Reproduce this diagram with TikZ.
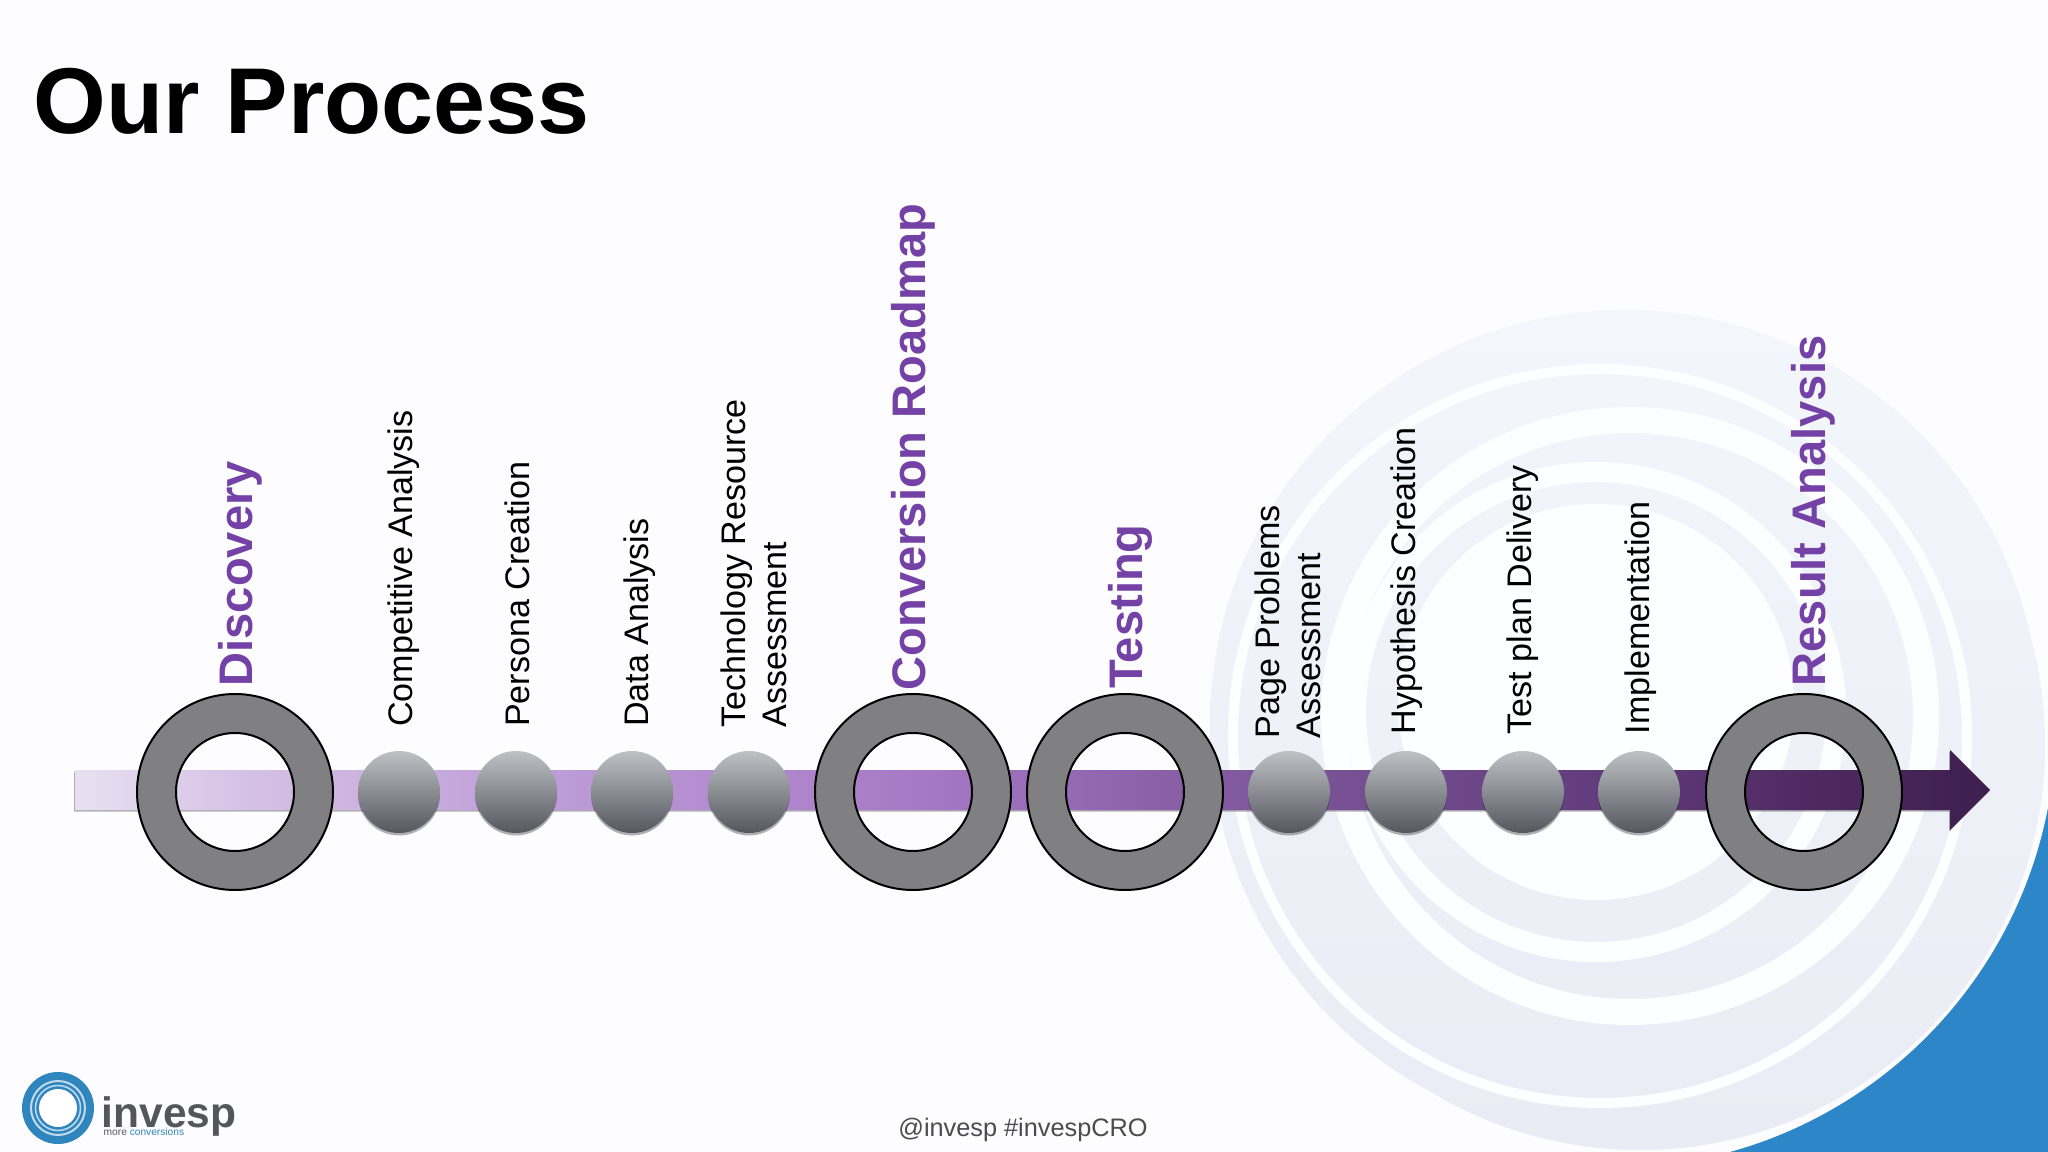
\documentclass[tikz,border=0pt]{standalone}
\usepackage{fontspec}
\setmainfont{Liberation Sans}
\usepackage{tikz}
\usetikzlibrary{shadows}

\definecolor{pageWhite}{HTML}{FDFCFE}
\definecolor{swirlWhite}{HTML}{FDFEFF}
\definecolor{swirlTop}{HTML}{F3F6FB}
\definecolor{swirlLow}{HTML}{E9ECF4}
\definecolor{cornerBlue}{HTML}{2C86C8}
\definecolor{ringGray}{HTML}{808082}
\definecolor{stepPurple}{HTML}{7442A6}
\definecolor{logoBlue}{HTML}{2F86BE}
\definecolor{logoGray}{HTML}{55565A}
\definecolor{ballTop}{HTML}{BEC1C4}
\definecolor{ballMid}{HTML}{8D9096}
\definecolor{ballLow}{HTML}{54575E}
\definecolor{barA}{HTML}{E8E0F0}
\definecolor{barB}{HTML}{D6C2E6}
\definecolor{barC}{HTML}{C0A0D9}
\definecolor{barD}{HTML}{A779C6}
\definecolor{barE}{HTML}{8F63AD}
\definecolor{barF}{HTML}{7B5598}
\definecolor{barG}{HTML}{5F3A79}
\definecolor{barH}{HTML}{4F2A62}
\definecolor{barI}{HTML}{3E1F4E}
\pgfdeclarehorizontalshading{barShade}{100bp}{
  color(0bp)=(barA); color(25bp)=(barA); color(29.2bp)=(barB); color(36.5bp)=(barC);
  color(46.9bp)=(barD); color(52.4bp)=(barE); color(56.7bp)=(barF);
  color(65.8bp)=(barG); color(70.1bp)=(barH); color(75bp)=(barI); color(100bp)=(barI)}

\begin{document}
\begin{tikzpicture}
    \tikzstyle{title} = [
      anchor=south west,
      inner sep=0,
      font=\fontsize{26.6pt}{30pt}\selectfont\bfseries,
    ]
    \tikzstyle{stage} = [
      rotate=90,
      anchor=west,
      inner sep=0,
      text=stepPurple,
      font=\fontsize{13.4pt}{15pt}\selectfont\bfseries,
    ]
    \tikzstyle{task} = [
      rotate=90,
      anchor=west,
      align=left,
      inner sep=0,
      font=\fontsize{9.7pt}{11.5pt}\selectfont,
    ]
    \tikzstyle{ball} = [
      circle,
      minimum size=8.2mm,
      inner sep=0,
      top color=ballTop,
      middle color=ballMid,
      bottom color=ballLow,
      drop shadow={shadow xshift=0mm, shadow yshift=-0.25mm, opacity=0.3, fill=black},
    ]
    \tikzstyle{ring} = [
      draw=black,
      line width=0.2mm,
      fill=ringGray,
      even odd rule,
    ]
    \tikzstyle{swirl} = [
      draw=swirlWhite,
    ]

    \newcommand{\ringOuter}[0]{9.8mm}
    \newcommand{\ringInner}[0]{5.9mm}
    \newcommand{\ringAt}[1]{\draw[ring] (#1) circle (\ringOuter) (#1) circle (\ringInner);}

    \useasboundingbox (0,0) rectangle (204.8mm,-115.2mm);

    \coordinate (barAnchor) at (7.5mm,-79mm);
    \coordinate (swirlAnchor) at (160mm,-72mm);
    \coordinate (logoAnchor) at (5.8mm,-110.8mm);

    % page
    {
      \fill[pageWhite] (0,0) rectangle (204.8mm,-115.2mm);
    }

    % swirl
    {
      \begin{scope}
        \clip (0,0) rectangle (204.8mm,-115.2mm);
        \fill[cornerBlue] (swirlAnchor) rectangle (204.8mm,-115.2mm);
        \fill[pageWhite] ([xshift=1.1mm, yshift=-0.3mm] swirlAnchor) circle (44.5mm);
        \shade[top color=swirlTop, bottom color=swirlLow]
          ([xshift=2.5mm, yshift=-0.5mm] swirlAnchor) circle (41.5mm)
          ([xshift=4mm, yshift=-2.5mm] swirlAnchor) circle (40.5mm);
        \draw[swirl, line width=1mm] ([yshift=-1.6mm] swirlAnchor) circle (36.7mm);
        \draw[swirl, line width=2.6mm] ([xshift=3mm, yshift=0.4mm] swirlAnchor) circle (29.6mm);
        \draw[swirl, line width=2mm] ([xshift=-0.4mm, yshift=0.8mm] swirlAnchor) circle (24mm);
        \fill[swirlWhite] ([xshift=-0.4mm, yshift=1.8mm] swirlAnchor) circle (19.8mm);
      \end{scope}
    }

    % title
    {
      \node[title] (pageTitle) at (3.3mm,-13.5mm) {Our Process};
    }

    % bar
    {
      \coordinate (barTip) at ([xshift=191.5mm] barAnchor);
      \shade[shading=barShade, drop shadow={shadow xshift=-0.1mm, shadow yshift=-0.15mm, opacity=0.3, fill=black}]
        ([yshift=2mm] barAnchor) -- ([xshift=187.5mm, yshift=2mm] barAnchor)
        -- ([xshift=187.5mm, yshift=4mm] barAnchor) -- (barTip)
        -- ([xshift=187.5mm, yshift=-4mm] barAnchor) -- ([xshift=187.5mm, yshift=-2mm] barAnchor)
        -- ([yshift=-2mm] barAnchor) -- cycle;
    }

    % balls
    {
      \node[ball] (ballCompetitive) at ([xshift=32.4mm, yshift=-0.2mm] barAnchor) {};
      \node[ball] (ballPersona)     at ([xshift=44.1mm, yshift=-0.2mm] barAnchor) {};
      \node[ball] (ballData)        at ([xshift=55.7mm, yshift=-0.2mm] barAnchor) {};
      \node[ball] (ballTechnology)  at ([xshift=67.4mm, yshift=-0.2mm] barAnchor) {};
      \node[ball] (ballPage)        at ([xshift=121.4mm, yshift=-0.2mm] barAnchor) {};
      \node[ball] (ballHypothesis)  at ([xshift=133.1mm, yshift=-0.2mm] barAnchor) {};
      \node[ball] (ballTestPlan)    at ([xshift=144.8mm, yshift=-0.2mm] barAnchor) {};
      \node[ball] (ballImpl)        at ([xshift=156.4mm, yshift=-0.2mm] barAnchor) {};
    }

    % rings
    {
      \coordinate (ringDiscovery)  at ([xshift=16mm, yshift=-0.2mm] barAnchor);
      \coordinate (ringRoadmap)    at ([xshift=83.8mm, yshift=-0.2mm] barAnchor);
      \coordinate (ringTesting)    at ([xshift=105mm, yshift=-0.2mm] barAnchor);
      \coordinate (ringResult)     at ([xshift=172.9mm, yshift=-0.2mm] barAnchor);
      \ringAt{ringDiscovery}
      \ringAt{ringRoadmap}
      \ringAt{ringTesting}
      \ringAt{ringResult}
    }

    % stage labels
    {
      \node[stage] (labelDiscovery) at ([xshift=0.55mm, yshift=10.5mm] ringDiscovery) {Discovery};
      \node[stage] (labelRoadmap)   at ([xshift=0mm, yshift=10.1mm] ringRoadmap) {Conversion Roadmap};
      \node[stage] (labelTesting)   at ([xshift=0.55mm, yshift=10.3mm] ringTesting) {Testing};
      \node[stage] (labelResult)    at ([xshift=0.9mm, yshift=10.5mm] ringResult) {Result Analysis};
    }

    % task labels
    {
      \node[task] (labelCompetitive) at ([xshift=0.45mm, yshift=6.45mm] ballCompetitive) {Competitive Analysis};
      \node[task] (labelPersona)     at ([xshift=0.15mm, yshift=6.45mm] ballPersona) {Persona Creation};
      \node[task] (labelData)        at ([xshift=0.75mm, yshift=6.45mm] ballData) {Data Analysis};
      \node[task] (labelTechnology)  at ([xshift=0.5mm, yshift=6.4mm] ballTechnology) {Technology Resource\\Assessment};
      \node[task] (labelPage)        at ([xshift=-0.1mm, yshift=5.3mm] ballPage) {Page Problems\\Assessment};
      \node[task] (labelHypothesis)  at ([xshift=0.1mm, yshift=5.7mm] ballHypothesis) {Hypothesis Creation};
      \node[task] (labelTestPlan)    at ([xshift=0mm, yshift=5.7mm] ballTestPlan) {Test plan Delivery};
      \node[task] (labelImpl)        at ([xshift=0.2mm, yshift=5.7mm] ballImpl) {Implementation};
    }

    % logo
    {
      \fill[logoBlue] (logoAnchor) circle (3.6mm);
      \draw[white!70!logoBlue, line width=0.2mm] (logoAnchor) circle (2.7mm);
      \draw[white!70!logoBlue, line width=0.15mm] (logoAnchor) circle (2.25mm);
      \fill[white] (logoAnchor) circle (1.9mm);
      \node[anchor=base west, inner sep=0, text=logoGray, font=\fontsize{12.1pt}{13pt}\selectfont\bfseries] (logoName) at (10.1mm,-112.7mm) {invesp};
      \node[anchor=base west, inner sep=0, text=logoGray, font=\fontsize{2.9pt}{3pt}\selectfont] (logoTag) at (10.3mm,-113.5mm) {more \textcolor{logoBlue}{conversions}};
    }

    % footer
    {
      \node[inner sep=0, text=black!70, font=\fontsize{7.2pt}{9pt}\selectfont] (footerTag) at (102.3mm,-113mm) {@invesp \#invespCRO};
    }
\end{tikzpicture}
\end{document}
